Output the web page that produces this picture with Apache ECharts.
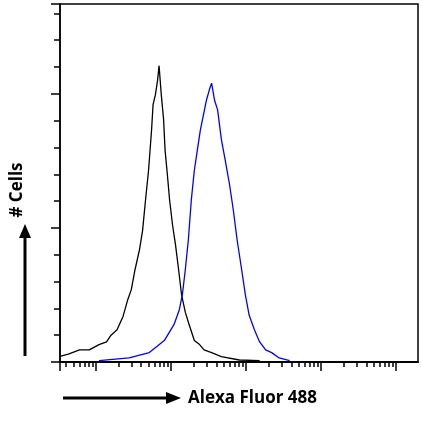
<!DOCTYPE html>
<html><head><meta charset="utf-8">
<script src="https://cdn.jsdelivr.net/npm/echarts@6/dist/echarts.min.js"></script>
<style>html,body{margin:0;background:#fff}#c{width:422px;height:428px}</style>
</head><body><div id="c"></div>
<script>
// log10 fluorescence, cell count
var controlX = [-0.49,-0.36,-0.22,-0.09,0.04,0.14,0.20,0.28,0.36,0.42,0.47,0.52,0.58,0.62,0.66,0.70,0.74,0.76,0.79,0.82,0.84,0.87,0.90,0.92,0.95,0.98,1.02,1.06,1.10,1.14,1.19,1.24,1.31,1.38,1.44,1.54,1.67,1.91,2.18];
var controlY = [4,6,9,9,13,15,20,24,34,46,54,69,84,98,121,143,173,192,199,210,221,199,181,158,140,121,102,87,69,50,37,28,16,13,9,7,4,1.5,1];
var stainX = [0.04,0.44,0.71,0.91,1.04,1.11,1.15,1.19,1.23,1.27,1.31,1.35,1.39,1.43,1.47,1.51,1.54,1.58,1.62,1.67,1.72,1.78,1.83,1.88,1.94,1.99,2.04,2.11,2.18,2.26,2.34,2.44,2.58];
var stainY = [1,3,7,16,28,39,50,69,91,121,143,158,173,184,195,203,208,195,188,166,151,132,113,91,69,50,35,24,15,9,7,3,1];
var decades = [0,1,2,3,4];

var minorTicks = [];
for (var k = -1; k < 5; k++) for (var m = 2; m <= 9; m++) {
  var v = k + Math.log10(m);
  if (v > -0.48 && v < 4.29) minorTicks.push(v);
}
function zip(xs, ys){ return xs.map(function(x,i){ return [x, ys[i]]; }); }

var chart = echarts.init(document.getElementById('c'));
var xBase = { type:'value', min:-0.48, max:4.29, position:'bottom', splitLine:{show:false},
  axisLabel:{show:false}, axisLine:{onZero:false,lineStyle:{color:'#000',width:1.5}} };
var yBase = { type:'value', min:0, max:267, position:'left', splitLine:{show:false}, axisLabel:{show:false} };
chart.setOption({
  animation:false,
  grid:{left:60,top:4,right:4,bottom:66,show:true,borderColor:'#000',borderWidth:1.5},
  xAxis:[
    Object.assign({}, xBase, {axisTick:{length:5,customValues:minorTicks,lineStyle:{color:'#000',width:1.5}}}),
    Object.assign({}, xBase, {axisTick:{length:9,customValues:decades.concat([-0.48]),lineStyle:{color:'#000',width:1.5}}})
  ],
  yAxis:[
    Object.assign({}, yBase, {interval:20,axisLine:{show:true,onZero:false,lineStyle:{color:'#000',width:1.5}},
      axisTick:{length:6,lineStyle:{color:'#000',width:1.5}}}),
    Object.assign({}, yBase, {interval:100,axisLine:{show:false,onZero:false},
      axisTick:{length:9,lineStyle:{color:'#000',width:1.5}}})
  ],
  series:[
    {type:'line',data:zip(controlX,controlY),symbol:'none',lineStyle:{color:'#000',width:1.3}},
    {type:'line',data:zip(stainX,stainY),symbol:'none',lineStyle:{color:'#0000ff',width:1.3}}
  ],
  graphic:[
    {type:'line',shape:{x1:25,y1:356,x2:25,y2:236},style:{stroke:'#000',lineWidth:3}},
    {type:'polygon',shape:{points:[[19,238],[31,238],[25,224]]},style:{fill:'#000'}},
    {type:'text',x:17,y:190,rotation:Math.PI/2,style:{text:'# Cells',font:'bold 17px "Open Sans"',fill:'#000',align:'center',verticalAlign:'middle'}},
    {type:'line',shape:{x1:63,y1:398,x2:168,y2:398},style:{stroke:'#000',lineWidth:3}},
    {type:'polygon',shape:{points:[[166,392],[166,404],[181,398]]},style:{fill:'#000'}},
    {type:'text',x:188,y:398,style:{text:'Alexa Fluor 488',font:'bold 17px "Open Sans"',fill:'#000',verticalAlign:'middle'}}
  ]
});
</script></body></html>
